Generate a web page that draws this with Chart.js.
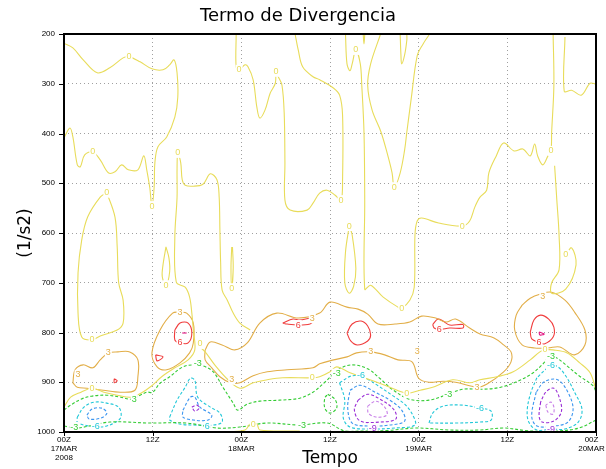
<!DOCTYPE html>
<html><head><meta charset="utf-8">
<script src="https://cdn.jsdelivr.net/npm/chart.js@4/dist/chart.umd.min.js"></script>
<style>html,body{margin:0;padding:0;background:#fff}#wrap{width:606px;height:469px}</style>
</head><body><div id="wrap"><canvas id="c" width="606" height="469"></canvas></div>
<script>
// ---- axes ----
const xTickValues = [0, 12, 24, 36, 48, 60, 72];               // hours since 00Z 17MAR2008
const xTickLabels = [["00Z","17MAR","2008"],["12Z"],["00Z","18MAR"],["12Z"],["00Z","19MAR"],["12Z"],["00Z    ","20MAR    "]];
const yTickValues = [200, 300, 400, 500, 600, 700, 800, 900, 1000];  // hPa

// ---- contour lines: [hour, pressure] ----
const zeroA = [[0,219],[1.2,228],[2.6,252],[4.5,278],[6.2,268],[8,248],[8.8,246],[10.3,256],[11.9,270],[13.4,272],[14.3,262],[14.9,252],[15.3,278],[15.4,327],[15,367],[13.9,407],[12.7,427],[12.3,459],[12.2,508],[11.9,546],[11.6,508],[11.2,473],[10.8,445],[10,473],[8.7,473],[7.8,463],[6.9,477],[6,479],[4.9,453],[3.9,437],[2.8,443],[2.2,467],[1.8,463],[1.2,407],[0.8,389],[0,409]];
const zeroB = [[5.8,519],[6.9,568],[7.2,628],[7.4,700],[8,735],[8,781],[7.2,795],[4.9,807],[3.8,815],[2.4,809],[1.9,761],[1.9,680],[2.4,614],[3.2,568],[4.9,528],[5.8,519]];
const zeroC = [[0,950],[0.9,930],[2.3,920],[3.8,912],[5.4,920],[7.2,926],[9.1,930],[10.4,922],[11.8,908],[13.3,888],[15,871],[16.8,855],[17.7,835],[17.5,795],[17.3,761],[17,729],[16.4,709],[15.2,699],[15,608],[15.3,528],[15.3,473],[15.4,439],[15.8,459],[16,493],[16.4,504],[17.5,506],[18.8,502],[19.8,481],[20.7,493],[21,528],[21.1,594],[21.2,660],[21.4,715],[22.1,735],[22.9,761],[23.8,781],[25.2,795]];
const zeroD = [[18.1,825],[19.1,839],[20.4,865],[22.2,895],[23.8,912],[25.6,901],[27.5,895],[29.6,891],[33.6,891],[34.6,889],[36,879],[36.9,869],[38.7,881],[41.4,895],[44.1,910],[46.4,922],[48.2,916],[49.9,910],[52.6,895],[54.9,901],[56.3,895],[58.6,889],[60.8,879],[63.1,855],[64.4,839],[65.1,835],[66.2,835],[68.1,841],[69.8,861],[71.2,881],[72,915]];
const zeroE = [[38.1,202],[38.3,260],[38.7,274],[39,260],[39.5,232],[40.1,260],[40.3,303],[40.6,397],[40.7,534],[40.7,713],[41.5,705],[43.2,729],[45.2,749],[45.7,751],[46.8,735],[47.4,709],[47.5,604],[47.8,576],[48.4,570],[50.7,580],[53.9,586],[54.9,576],[55.6,548],[56.3,528],[57.2,514],[57.5,479],[58.5,445],[59.5,419],[60.9,435],[62.1,431],[63.1,445],[63.7,421],[64.1,445],[64.8,463],[65.5,445],[65.9,435],[66,397],[66.3,303],[66.2,202]];
const zeroF = [[38.6,586],[38.1,638],[38,700],[38.6,721],[39.2,707],[39.5,672],[39,604],[38.6,586]];
const zeroG = [[23.3,202],[23.3,266],[23.7,272],[24.5,262],[24.9,266],[25.6,292],[26.1,347],[26.5,369],[27.2,353],[27.9,319],[28.6,299],[28.7,276],[29,286],[29.5,303],[29.8,359],[29.9,459],[29.9,534],[30.6,554],[32.9,554],[33.7,540],[34.6,520],[35.6,514],[36.7,524],[37.5,534],[37.7,493],[37.7,363],[37.3,323],[36.5,309],[34.6,292],[33.7,286],[32.3,266],[31.7,232],[31.3,202]];
const zeroH = [[13.8,628],[13.4,664],[13.3,688],[13.8,705],[14.3,678],[14.2,650],[13.8,628]];
const zeroI = [[22.7,628],[22.6,670],[22.7,709],[22.9,670],[22.8,628]];
const zeroJ = [[42.8,202],[41.5,260],[41.1,303],[41.7,353],[42.9,397],[43.8,443],[44.4,479],[44.7,508],[45.5,479],[46.1,433],[46.4,397],[47,329],[47.8,244],[48.6,220],[49.4,202]];
const zeroK = [[45.5,202],[45.6,242],[45.7,260],[46.1,242],[46.4,212],[46.4,202]];
const zeroL = [[40.5,202],[40.6,220],[40.7,202]];
const zeroM = [[67.8,206],[67.7,315],[68.7,313],[70,323],[71.2,299],[72,301]];
const zeroN = [[66.4,465],[66.7,534],[67,604],[67,674],[66,700],[66,721],[67.9,713],[69.3,664],[68.7,630],[67.9,644]];
const zeroO = [[22.2,1000],[24.5,996],[25.2,984],[26.1,984],[26.5,996],[31.9,998]];

const threeA = [[1.2,901],[1.5,875],[2.6,865],[3.9,871],[4.9,855],[6,841],[7.3,839],[8.9,839],[10,855],[10,889],[9.6,916],[7.6,920],[5.3,916],[3.1,912],[1.8,910],[1.2,901]];
const threeB = [[15.7,759],[14.7,761],[13,795],[11.9,841],[12.6,869],[13.9,875],[15.7,861],[17,841],[17.5,821],[17.5,781],[16.6,761],[15.7,759]];
const threeC = [[19.1,835],[19.8,819],[21.4,825],[23.1,835],[24.8,821],[26.5,781],[28.8,761],[31.7,771],[34.6,761],[36,739],[38.3,749],[39.8,753],[41.1,763],[42.5,783],[44.8,783],[46.8,779],[48.4,767],[50.3,771],[51.7,779],[53,773],[54.9,791],[56.3,803],[58.2,811],[59.5,825],[60.5,839],[60.5,859],[59.5,879],[57.2,904],[55.9,910],[53,900],[51.3,898],[49.4,900],[48,892],[47.1,859],[45.2,855],[43.4,845],[41.5,839],[39.6,841],[38.3,849],[36.5,855],[34.6,863],[33.7,871],[30.2,875],[27.5,879],[25.6,887],[23.8,901],[22.5,901],[21.1,889],[20,871],[19.1,855],[19.1,835]];
const threeD = [[62,745],[63.1,731],[64.4,723],[66,719],[67.8,735],[69.1,759],[70.5,795],[70.5,825],[69.1,845],[67.1,829],[65.5,831],[63.7,831],[62,825],[61,795],[61.2,765],[62,745]];

const sixA = [[15,795],[15.7,781],[16.8,781],[17.3,801],[16.8,821],[15.7,821],[15,815],[15,795]];
const sixB = [[12.4,845],[13.4,849],[12.6,857],[12.4,845]];
const sixC = [[6.8,893],[7.2,897],[6.8,901],[6.8,893]];
const sixD = [[29.6,781],[31,773],[31.9,775],[33.6,771],[33.7,777],[33.3,783],[31.7,785],[30.2,783],[29.6,781]];
const sixE = [[38.3,801],[39,783],[40.2,777],[41.1,787],[41.5,805],[41.1,817],[39.7,825],[38.8,817],[38.3,801]];
const sixF = [[49.9,784],[50.6,773],[51.3,777],[52.2,785],[54,784],[54,791],[52.2,791],[50.8,794],[50.1,791],[49.9,784]];
const sixG = [[63.1,799],[63.6,775],[64.5,765],[65.6,773],[66.3,789],[66.2,809],[65,823],[64.3,820],[63.3,813],[63.1,799]];
const nineA = [[16,801],[16.6,801]];
const nineB = [[64.3,799],[65,803],[64.4,805],[64.3,799]];

const negThreeA = [[0,956],[0.9,946],[2.3,934],[3.7,928],[5.8,926],[7.7,930],[9.1,934],[10.3,926],[11.2,920],[12,920],[13,902],[14.3,889],[16.1,869],[17.5,865],[18.8,867],[20.2,879],[21.5,910],[22.9,942],[23.5,956],[24.8,944],[26.5,938],[29.2,936],[31.9,932],[33.7,920],[35.3,900],[37.3,873],[39,865],[41.1,873],[42.8,893],[44.4,914],[46.7,934],[49.4,936],[52,924],[54,914],[56.8,914],[59.1,910],[61.4,898],[63.3,883],[64.7,865],[65.6,851],[66.4,849],[67.9,865],[69.7,887],[71.6,907],[72,920]];
const negThreeB = [[0,988],[1.8,992],[6.2,980],[11.6,982],[16.6,982],[20.7,992],[23.8,990],[27.5,982],[31.9,986],[35.6,982],[38,998],[40.2,998],[43.8,997],[47.6,992],[52.2,996],[56.3,996],[59.5,992],[62.4,997],[64.7,999],[67,998],[69.7,992],[72,976]];
const negThreeC = [[35.7,924],[36.7,935],[36.9,952],[36,962],[35.3,952],[35.3,932],[35.7,924]];

const negSixA = [[1.8,970],[2.7,950],[4.1,940],[5.8,942],[7.4,950],[7.7,970],[6.8,982],[5,990],[2.7,986],[1.8,980],[1.8,970]];
const negSixB = [[14.3,970],[15.3,936],[16.4,910],[17.1,892],[17.7,896],[18.1,930],[19.8,950],[21.1,962],[21.4,980],[20.2,986],[17.5,986],[15.7,984],[14.3,976],[14.3,970]];
const negSixC = [[37.3,901],[39,887],[40.7,891],[42.5,907],[44.4,926],[46.1,944],[47.2,966],[47.5,986],[44.8,992],[41.4,994],[38.7,990],[37.8,972],[38,936],[37.3,901]];
const negSixD = [[49.4,982],[49.9,962],[51.3,948],[54,946],[56.3,952],[57.8,958],[57.8,976],[56.3,980],[53,982],[49.4,982]];
const negSixE = [[64,891],[63.2,920],[62.7,954],[62.9,980],[64,996],[65.9,994],[67.8,994],[69.6,980],[70.1,954],[69.1,920],[67.8,885],[66.6,867],[65.5,871],[64,891]];

const negSevenA = [[3.1,966],[3.8,954],[5.1,952],[5.8,962],[5,972],[3.4,974],[3.1,966]];
const negSevenB = [[16.1,956],[17.1,930],[17.7,930],[18.4,950],[20,966],[19.5,976],[17.5,976],[16.1,970],[16.1,956]];
const negSevenC = [[38.7,916],[40.1,906],[42.1,920],[44.1,936],[45.7,956],[46.1,978],[44.1,986],[41.1,988],[39,982],[38.4,952],[38.7,916]];
const negSevenD = [[63.9,920],[63.3,968],[64,988],[66.3,988],[68.2,980],[68.9,954],[68.2,920],[66.8,895],[65,899],[63.9,920]];

const negNineA = [[17.3,950],[18,946],[18.3,952],[17.7,958],[17.3,950]];
const negNineB = [[39.8,936],[41.1,924],[43,936],[44.7,956],[44.9,974],[42.8,980],[40.1,978],[39.3,956],[39.8,936]];
const negNineC = [[64.5,940],[64.3,968],[64.7,980],[66.3,978],[67.3,960],[67.1,934],[66.3,912],[65.2,920],[64.5,940]];
const negTenA = [[41.1,948],[42.2,938],[43.4,950],[43.7,966],[42.2,970],[41.2,962],[41.1,948]];
const negTenB = [[65.2,946],[65.5,960],[66.2,964],[66.3,950],[65.9,940],[65.2,946]];

// contour labels: [text, hour, pressure, level]
const contourLabels = [
 ["0",8.8,246,0],["0",3.9,437,0],["0",11.9,546,0],["0",5.8,519,0],["0",3.8,815,0],["0",15.4,439,0],["0",13.8,705,0],
 ["0",22.7,711,0],["0",23.7,272,0],["0",28.7,276,0],["0",37.5,534,0],["0",39.5,232,0],["0",44.7,508,0],["0",38.6,586,0],
 ["0",45.7,751,0],["0",53.9,586,0],["0",65.9,435,0],["0",67.9,644,0],["0",3.8,912,0],["0",18.4,823,0],["0",46.4,922,0],
 ["0",33.6,891,0],["0",65.1,835,0],["0",25.6,984,0],
 ["3",6,841,3],["3",1.9,885,3],["3",15.7,759,3],["3",22.7,895,3],["3",33.6,771,3],["3",41.5,839,3],["3",47.8,839,3],["3",55.9,910,3],["3",64.8,727,3],
 ["6",15.7,821,6],["6",31.7,785,6],["6",50.8,794,6],["6",64.3,820,6],
 ["-3",1.4,990,-3],["3",9.5,934,-3],["-3",18.1,863,-3],["-3",32.2,986,-3],["-3",36.9,883,-3],["-3",52,924,-3],["-3",65.9,849,-3],
 ["-6",4.3,988,-6],["6",19.4,988,-6],["-6",40.2,887,-6],["-6",56.3,952,-6],["-6",65.9,867,-6],
 ["-9",41.8,992,-9],["-9",65.9,996,-9]
];

const levelColor = {"-10.5":"#c880e8","-9":"#9a2ed6","-7.5":"#3c96f0","-6":"#22c8d8","-3":"#34cc34","0":"#e8dc5a","3":"#e2ae48","6":"#f03c3c","7.5":"#e0107e"};
const contours = [
 [0,zeroA],[0,zeroB],[0,zeroC],[0,zeroD],[0,zeroE],[0,zeroF],[0,zeroG],[0,zeroH],[0,zeroI],[0,zeroJ],[0,zeroK],[0,zeroL],[0,zeroM],[0,zeroN],[0,zeroO],
 [3,threeA],[3,threeB],[3,threeC],[3,threeD],
 [6,sixA],[6,sixB],[6,sixC],[6,sixD],[6,sixE],[6,sixF],[6,sixG],[7.5,nineA],[7.5,nineB],
 [-3,negThreeA],[-3,negThreeB],[-3,negThreeC],
 [-6,negSixA],[-6,negSixB],[-6,negSixC],[-6,negSixD],[-6,negSixE],
 [-7.5,negSevenA],[-7.5,negSevenB],[-7.5,negSevenC],[-7.5,negSevenD],
 [-9,negNineA],[-9,negNineB],[-9,negNineC],[-10.5,negTenA],[-10.5,negTenB]
];

const datasets = contours.map(([lv, pts]) => ({
  data: pts.map(([h,p]) => ({x:h, y:p})),
  showLine: true, pointRadius: 0, borderWidth: 1.1,
  borderColor: levelColor[String(lv)], borderDash: lv < 0 ? [3,2] : [],
  tension: 0.35, fill: false
}));

const FONT = '"Liberation Sans", "DejaVu Sans", sans-serif';

const decor = {
  id: 'decor',
  afterDatasetsDraw(chart) {
    const {ctx, chartArea: a, scales: {x, y}} = chart;
    ctx.save();
    ctx.beginPath(); ctx.rect(a.left, a.top, a.width, a.height); ctx.clip();
    ctx.font = '9px ' + FONT;
    ctx.textAlign = 'center'; ctx.textBaseline = 'middle';
    for (const [t, h, p, lv] of contourLabels) {
      const px = x.getPixelForValue(h), py = y.getPixelForValue(p);
      const w = ctx.measureText(t).width;
      ctx.fillStyle = '#fff'; ctx.fillRect(px - w/2 - 1, py - 5, w + 2, 10);
      ctx.fillStyle = levelColor[String(lv)]; ctx.fillText(t, px, py);
    }
    ctx.restore();
    ctx.save();
    ctx.strokeStyle = '#000'; ctx.lineWidth = 2;
    ctx.strokeRect(a.left, a.top, a.width, a.height);
    ctx.lineWidth = 1;
    ctx.beginPath();
    for (const v of yTickValues) { const py = Math.round(y.getPixelForValue(v)) + 0.5; ctx.moveTo(a.left - 5, py); ctx.lineTo(a.left, py); }
    for (const v of xTickValues) { const px = Math.round(x.getPixelForValue(v)) + 0.5; ctx.moveTo(px, a.bottom); ctx.lineTo(px, a.bottom + 4); }
    ctx.stroke();
    ctx.restore();
  }
};

new Chart(document.getElementById('c'), {
  type: 'scatter',
  data: { datasets },
  plugins: [decor],
  options: {
    responsive: false, animation: false, devicePixelRatio: 1,
    layout: { padding: { left: 0, right: 10, top: 0, bottom: 0 } },
    plugins: {
      legend: { display: false }, tooltip: { enabled: false },
      title: { display: true, text: 'Termo de Divergencia', color: '#000',
        font: { family: '"DejaVu Sans", sans-serif', size: 18, weight: 'normal' },
        padding: { top: 6, bottom: 6.4 } }
    },
    scales: {
      x: {
        type: 'linear', min: 0, max: 72,
        afterBuildTicks: s => { s.ticks = xTickValues.map(v => ({ value: v })); },
        afterFit: s => { s.height = 37; s.paddingLeft = 0; s.paddingRight = 0; },
        ticks: { callback: (v) => xTickLabels[xTickValues.indexOf(v)], color: '#000', maxRotation: 0, autoSkip: false, padding: 3,
          font: { family: FONT, size: 8, lineHeight: 1.15 } },
        grid: { color: '#a0a0a0', drawTicks: false, lineWidth: 1 },
        border: { display: false, dash: [1, 3] },
        title: { display: true, text: 'Tempo', color: '#000', font: { family: '"DejaVu Sans", sans-serif', size: 17 }, padding: { top: 1, bottom: 0 } }
      },
      y: {
        type: 'linear', reverse: true, min: 200, max: 1000,
        afterBuildTicks: s => { s.ticks = yTickValues.map(v => ({ value: v })); },
        afterFit: s => { s.width = 64; s.paddingTop = 0; s.paddingBottom = 0; },
        ticks: { callback: (v) => String(v), color: '#000', padding: 9, font: { family: FONT, size: 8 } },
        grid: { color: '#a0a0a0', drawTicks: false, lineWidth: 1 },
        border: { display: false, dash: [1, 3] },
        title: { display: true, text: '(1/s2)', color: '#000', font: { family: '"DejaVu Sans", sans-serif', size: 17 }, padding: { top: 15, bottom: 0 } }
      }
    }
  }
});
</script>
</body></html>
